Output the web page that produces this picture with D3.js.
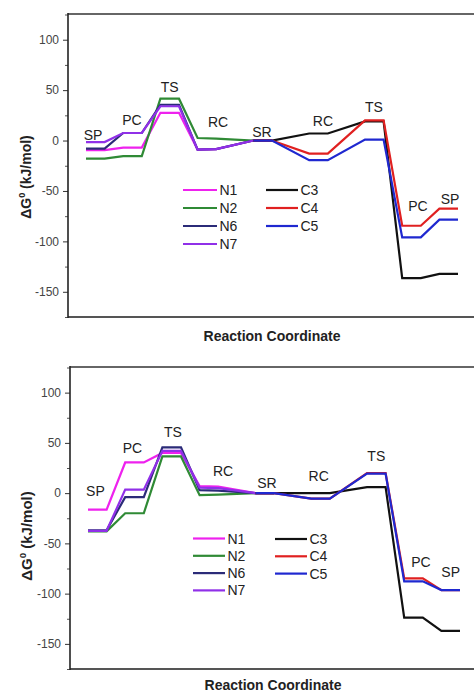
<!DOCTYPE html>
<html><head><meta charset="utf-8">
<script src="https://cdn.jsdelivr.net/npm/d3@7/dist/d3.min.js"></script>
<style>body{margin:0;background:#fff}svg{display:block;font-family:Arial,"Liberation Sans",sans-serif}</style>
</head><body>
<svg id="c" width="474" height="693"></svg>
<script>
// x positions (reaction coordinate steps)
const nPos = [0,1,2,3,4,5,6,7,9,10];
const cPos = [9,10,12,13,15,16,17,18,19,20];
const seriesNames = ["N1","N2","N6","N7","C3","C4","C5"];
const yTicks = [-150,-100,-50,0,50,100];
const yMinor = [-175,-125,-75,-25,25,75,125];

// top panel values (kJ/mol)
const topN1 = [-9.5,-9.5,-7,-7,27.5,27.5,-9,-8.5,0,0];
const topN2 = [-18,-18,-15.5,-15.5,41.5,41.5,2.5,2,0,0];
const topN6 = [-8,-8,7.5,7.5,35.5,35.5,-9,-8.5,0,0];
const topN7 = [-1.5,-1.5,7.5,7.5,34,34,-9,-8.5,0,0];
const topC3 = [0,0,7,7,19,19,-136.5,-136.5,-132.3,-132.3];
const topC4 = [0,0,-13,-13,20,20,-84.5,-84.5,-67.5,-67.5];
const topC5 = [0,0,-19.5,-19.5,1,1,-96,-96,-78.5,-78.5];

// bottom panel values (kJ/mol)
const botN1 = [-16.5,-16.5,30.5,30.5,40,40,7,6.5,0,0];
const botN2 = [-38,-38,-20,-20,36.5,36.5,-2,-1.5,0,0];
const botN6 = [-37,-37,-4,-4,45.5,45.5,3,2.5,0,0];
const botN7 = [-37.5,-37.5,3.5,3.5,42,42,5.5,5,0,0];
const botC3 = [0,0,0,0,6,6,-123.8,-123.8,-137,-137];
const botC4 = [0,0,-5.5,-5.5,20,20,-84.8,-84.8,-96.5,-96.5];
const botC5 = [0,0,-5.5,-5.5,19.5,19.5,-87.8,-87.8,-96.5,-96.5];

// stage labels: [text, x, y] in data units
const topLabels = [["SP",0.38,1],["PC",2.47,15],["TS",4.5,48.5],["RC",7.1,13],["SR",9.46,4],["RC",12.74,14],["TS",15.48,28.7],["PC",17.85,-70.3],["SP",19.57,-63.4]];
const botLabels = [["SP",0.4,-3.3],["PC",2.39,40.4],["TS",4.57,55.4],["RC",7.26,16.6],["SR",9.62,4.7],["RC",12.4,11.6],["TS",15.5,31.5],["PC",17.9,-73.9],["SP",19.5,-83.8]];

const colors = {N1:"#ee22ee",N2:"#2f8a35",N6:"#2b2b78",N7:"#9030e8",C3:"#111111",C4:"#e02020",C5:"#1f28d0"};

const svg = d3.select("#c");

function panel(cfg){
  const x = d3.scaleLinear().domain([-1,21]).range([cfg.left-0.6, cfg.left+408.6]);
  const y = d3.scaleLinear().domain([-175,125.5]).range([cfg.bottom, cfg.top]);
  const g = svg.append("g");
  // frame lines
  g.append("line").attr("x1",cfg.left).attr("x2",474).attr("y1",cfg.top).attr("y2",cfg.top)
    .attr("stroke","#666").attr("stroke-width",2);
  g.append("line").attr("x1",cfg.left).attr("x2",474).attr("y1",cfg.bottom).attr("y2",cfg.bottom)
    .attr("stroke","#555").attr("stroke-width",2);
  // y axis
  const ax = g.append("g").attr("transform",`translate(${cfg.left},0)`)
    .call(d3.axisLeft(y).tickValues(yTicks).tickSize(5).tickPadding(4).tickFormat(d=>String(d)));
  ax.select(".domain").remove();
  ax.selectAll(".tick line").attr("stroke","#333");
  ax.selectAll(".tick text").attr("font-size",12).attr("fill","#444").attr("font-family","Arial, Liberation Sans, sans-serif");
  const mn = g.append("g").attr("transform",`translate(${cfg.left},0)`)
    .call(d3.axisLeft(y).tickValues(yMinor).tickSize(3).tickFormat(""));
  mn.select(".domain").remove();
  mn.selectAll(".tick line").attr("stroke","#555");
  g.append("line").attr("x1",cfg.left).attr("x2",cfg.left).attr("y1",cfg.top-1).attr("y2",cfg.bottom+1)
    .attr("stroke","#222").attr("stroke-width",1.6);

  const line = d3.line().x(d=>x(d[0])).y(d=>y(d[1]));
  cfg.series.forEach(s=>{
    const pos = s.name[0]==="N" ? nPos : cPos;
    g.append("path").attr("d", line(pos.map((p,i)=>[p,s.v[i]])))
      .attr("fill","none").attr("stroke",colors[s.name]).attr("stroke-width",2.2)
      .attr("stroke-linejoin","miter");
  });
  // stage labels
  cfg.labels.forEach(l=>{
    g.append("text").attr("x",x(l[1])).attr("y",y(l[2])).attr("text-anchor","middle")
      .attr("font-size",14).attr("fill","#222").text(l[0]);
  });
  // legend
  cfg.legend.forEach(col=>{
    col.names.forEach((n,i)=>{
      const yy = col.y0 + i*col.dy;
      g.append("line").attr("x1",col.x1).attr("x2",col.x2).attr("y1",yy).attr("y2",yy)
        .attr("stroke",colors[n]).attr("stroke-width",2.2);
      g.append("text").attr("x",col.x2+2.5).attr("y",yy+5).attr("font-size",14).attr("fill","#222").text(n);
    });
  });
  // axis titles
  g.append("text").attr("x",(cfg.left+476)/2).attr("y",cfg.xTitleY).attr("text-anchor","middle")
    .attr("font-size",14).attr("font-weight","bold").attr("fill","#222").text("Reaction Coordinate");
  const yt = g.append("text").attr("transform",`translate(${cfg.yTitleX},${cfg.yTitleY}) rotate(-90)`)
    .attr("text-anchor","middle").attr("font-size",cfg.yTitleSize).attr("font-weight","bold").attr("fill","#222");
  yt.append("tspan").text("\u0394G");
  yt.append("tspan").attr("dy",-6).attr("font-size",cfg.yTitleSize*0.65).text("0");
  yt.append("tspan").attr("dy",6).text(" (kJ/mol)");
}

panel({left:68, top:14, bottom:317, xTitleY:341, yTitleX:31, yTitleY:177, yTitleSize:14,
  series:[{name:"N1",v:topN1},{name:"N2",v:topN2},{name:"N6",v:topN6},{name:"N7",v:topN7},
          {name:"C3",v:topC3},{name:"C4",v:topC4},{name:"C5",v:topC5}],
  labels:topLabels,
  legend:[{names:["N1","N2","N6","N7"],x1:183,x2:217,y0:190,dy:18},
          {names:["C3","C4","C5"],x1:266,x2:298,y0:190,dy:18}]});

panel({left:70, top:367, bottom:669, xTitleY:690, yTitleX:32, yTitleY:536, yTitleSize:15,
  series:[{name:"N1",v:botN1},{name:"N2",v:botN2},{name:"N6",v:botN6},{name:"N7",v:botN7},
          {name:"C3",v:botC3},{name:"C4",v:botC4},{name:"C5",v:botC5}],
  labels:botLabels,
  legend:[{names:["N1","N2","N6","N7"],x1:193,x2:225,y0:538.5,dy:17.3},
          {names:["C3","C4","C5"],x1:275,x2:307,y0:539,dy:17.3}]});
</script>
</body></html>
